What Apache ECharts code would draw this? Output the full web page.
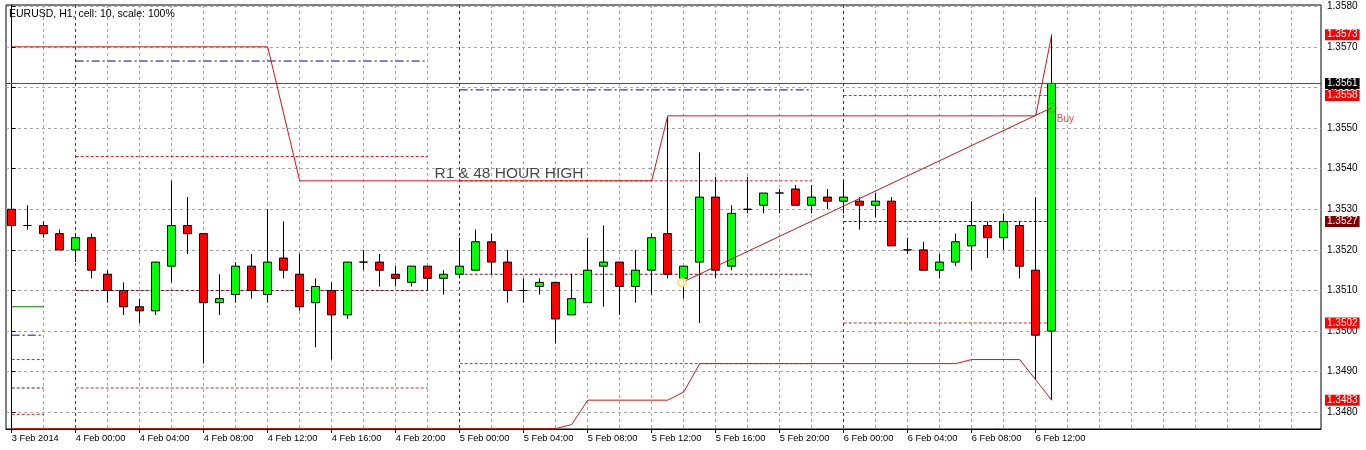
<!DOCTYPE html>
<html><head><meta charset="utf-8">
<script src="https://cdn.jsdelivr.net/npm/echarts@6/dist/echarts.min.js"></script>
<style>html,body{margin:0;padding:0;background:#fff}#c{width:1366px;height:450px}</style>
</head><body><div id="c"></div>
<script>
// ---- data ----
const chartTitle = 'EURUSD, H1, cell: 10, scale: 100%';
const xTickIndex = [0,4,8,12,16,20,24,28,32,36,40,44,48,52,56,60,64];
const xTickLabels = ['3 Feb 2014','4 Feb 00:00','4 Feb 04:00','4 Feb 08:00','4 Feb 12:00','4 Feb 16:00','4 Feb 20:00',
  '5 Feb 00:00','5 Feb 04:00','5 Feb 08:00','5 Feb 12:00','5 Feb 16:00','5 Feb 20:00',
  '6 Feb 00:00','6 Feb 04:00','6 Feb 08:00','6 Feb 12:00'];
const gridBarIndex = [0,2,4,6,8,10,12,14,16,18,20,22,24,26,28,30,32,34,36,38,40,42,44,46,48,50,52,54,56,58,60,62,64,66,68,70,72,74,76,78,80];
const daySeparators = [4,28,52];
const yTicks = [1.3480,1.3490,1.3500,1.3510,1.3520,1.3530,1.3540,1.3550,1.3560,1.3570,1.3580];

const opens  = [1.3530,1.3526,1.3526,1.3524,1.3520,1.3523,1.3514,1.3510,1.3506,1.3505,1.3516,1.3526,1.3524,1.3507,1.3509,1.3516,1.3509,1.3518,1.3514,1.3507,1.3510,1.3504,1.3517,1.3517,1.3514,1.3512,1.3516,1.3513,1.3514,1.3515,1.3522,1.3517,1.3510,1.3511,1.3512,1.3504,1.3507,1.3516,1.3517,1.3511,1.3515,1.3524,1.3513,1.3517,1.3533,1.3516,1.3530,1.3531,1.3534,1.3535,1.3531,1.3533,1.3532,1.3532,1.3531,1.3532,1.3520,1.3520,1.3515,1.3517,1.3521,1.3526,1.3523,1.3526,1.3515,1.3500];
const closes = [1.3526,1.3526,1.3524,1.3520,1.3523,1.3515,1.3510,1.3506,1.3505,1.3517,1.3526,1.3524,1.3507,1.3508,1.3516,1.3510,1.3517,1.3515,1.3506,1.3511,1.3504,1.3517,1.3517,1.3515,1.3513,1.3516,1.3513,1.3514,1.3516,1.3522,1.3517,1.3510,1.3510,1.3512,1.3503,1.3508,1.3515,1.3517,1.3511,1.3515,1.3523,1.3514,1.3516,1.3533,1.3515,1.3529,1.3530,1.3534,1.3534,1.3531,1.3533,1.3532,1.3533,1.3531,1.3532,1.3521,1.3520,1.3515,1.3517,1.3522,1.3526,1.3523,1.3527,1.3516,1.3499,1.3561];
const lows   = [1.3520,1.3525,1.3523,1.3520,1.3517,1.3513,1.3507,1.3504,1.3502,1.3504,1.3512,1.3519,1.3492,1.3504,1.3507,1.3508,1.3507,1.3513,1.3505,1.3496,1.3493,1.3503,1.3515,1.3511,1.3511,1.3511,1.3510,1.3509,1.3513,1.3515,1.3514,1.3507,1.3507,1.3509,1.3497,1.3504,1.3507,1.3506,1.3504,1.3507,1.3509,1.3513,1.3508,1.3502,1.3513,1.3515,1.3529,1.3529,1.3529,1.3531,1.3529,1.3530,1.3529,1.3525,1.3528,1.3521,1.3519,1.3515,1.3513,1.3516,1.3515,1.3518,1.3520,1.3513,1.3488,1.3483];
const highs  = [1.3533,1.3531,1.3527,1.3525,1.3524,1.3524,1.3515,1.3512,1.3508,1.3517,1.3537,1.3533,1.3524,1.3514,1.3517,1.3519,1.3530,1.3527,1.3519,1.3513,1.3512,1.3517,1.3520,1.3519,1.3516,1.3516,1.3516,1.3515,1.3523,1.3525,1.3524,1.3520,1.3513,1.3513,1.3512,1.3514,1.3523,1.3526,1.3517,1.3520,1.3524,1.3553,1.3516,1.3544,1.3538,1.3531,1.3538,1.3534,1.3535,1.3536,1.3536,1.3535,1.3537,1.3533,1.3534,1.3533,1.3523,1.3522,1.3519,1.3524,1.3532,1.3527,1.3529,1.3527,1.3533,1.3573];

// 48-hour high / low indicator lines (vertices)
const highLineX = [0,16,18,40,41,64,65];
const highLineY = [1.3570,1.3570,1.3537,1.3537,1.3553,1.3553,1.3573];
const lowLineX  = [0,34,35,36,41,42,43,59,60,63,64,65];
const lowLineY  = [1.3476,1.3476,1.3477,1.3483,1.3483,1.3485,1.3492,1.3492,1.3493,1.3493,1.3488,1.3483];

// daily level segments
const dayStart = [0,4,28,52];
const dayEnd   = [2,26,50,65];
const blueLevel    = [1.3499,1.35665,1.35594,null];
const greenLevel   = [1.3506,null,null,null];
const resistLevel  = [1.3493,1.3543,1.3537,1.3558];
const pivotLevel   = [1.3486,1.3510,1.3514,1.3527];
const supportLevel = [1.34795,1.3486,1.3492,1.3502];

// trend line & signal
const trendX = [41.9,65];
const trendY = [1.3512,1.3555];
const buySignal = [65,1.3555];
const bidPrice = 1.3561;

// right-hand price tags
const tagValues = [1.3573,1.3558,1.3527,1.3502,1.3483];
const tagKinds  = ['level','level','pivot','level','level'];

const annotationText = 'R1 & 48 HOUR HIGH';
const annotationAt = [26.39,1.35388];

// ---- build ----
const FONT = 'Liberation Sans, Arial, sans-serif';
const candles = opens.map((o,i)=>[i,o,closes[i],lows[i],highs[i]]);
const pairs = (xs,ys)=>xs.map((x,i)=>[x,ys[i]]);
function segs(levels){
  const out=[];
  levels.forEach((v,d)=>{ if(v==null) return; out.push([dayStart[d],v],[dayEnd[d],v],[dayEnd[d]+0.5,null]); });
  return out;
}
function levelSeries(name,levels,color,type,z){
  return {name,type:'line',data:segs(levels),symbol:'none',silent:true,z:z||2,
    lineStyle:{color,width:1,type},connectNulls:false,animation:false};
}
const tagColor = {level:'#ff0000',pivot:'#800000'};

const X_MIN = -0.356, X_MAX = 81.83;
const Y_MIN = 1.34759, Y_MAX = 1.35803;

const chart = echarts.init(document.getElementById('c'),null,{renderer:'canvas'});
chart.setOption({
  animation:false,
  backgroundColor:'#ffffff',
  textStyle:{fontFamily:FONT},
  title:{text:chartTitle,left:9,top:9,padding:0,textStyle:{fontSize:10.5,fontWeight:'normal',color:'#000',fontFamily:FONT}},
  grid:{left:6,right:45,top:5,bottom:21,show:true,borderColor:'#000',borderWidth:1,backgroundColor:'#fff'},
  xAxis:[
    {type:'value',min:X_MIN,max:X_MAX,position:'bottom',
      axisLine:{show:true,lineStyle:{color:'#000'}},
      axisTick:{show:false,customValues:gridBarIndex},
      axisLabel:{show:false},
      splitLine:{show:true,lineStyle:{color:'#a8a8a8',type:[3,3],width:1}}},
    {type:'value',min:X_MIN,max:X_MAX,position:'bottom',
      axisLine:{show:false},
      axisTick:{show:true,length:4,customValues:xTickIndex,lineStyle:{color:'#000'}},
      axisLabel:{show:true,customValues:xTickIndex,align:'left',margin:5,fontSize:9.3,color:'#000',fontFamily:FONT,
        formatter:v=>{const k=xTickIndex.indexOf(Math.round(v));return k>=0?xTickLabels[k]:'';}},
      splitLine:{show:false}},
    {type:'value',min:X_MIN,max:X_MAX,position:'bottom',
      axisLine:{show:false},
      axisTick:{show:false,customValues:daySeparators},
      axisLabel:{show:false},
      splitLine:{show:true,lineStyle:{color:'#3a3a5a',type:[3,3],width:1}}}
  ],
  yAxis:{type:'value',position:'right',min:Y_MIN,max:Y_MAX,scale:true,
    axisLine:{show:true,lineStyle:{color:'#000'}},
    axisTick:{show:true,length:4,customValues:yTicks,lineStyle:{color:'#000'}},
    axisLabel:{show:true,customValues:yTicks,margin:6,fontSize:10,color:'#000',fontFamily:FONT,formatter:v=>v.toFixed(4)},
    splitLine:{show:true,lineStyle:{color:'#a8a8a8',type:[3,3],width:1}}},
  series:[
    levelSeries('blue',blueLevel,'#0000c0',[8,3,2,3]),
    levelSeries('green',greenLevel,'#008000','solid'),
    levelSeries('resist',resistLevel,'#dd2222',[3,2]),
    levelSeries('pivot',pivotLevel,'#8b0a1a',[3,2]),
    levelSeries('support',supportLevel,'#dd2222',[3,2]),
    {name:'EURUSD',type:'candlestick',data:candles,barWidth:8,z:3,silent:true,
      itemStyle:{color:'#00ff00',color0:'#ff0000',borderColor:'#000',borderColor0:'#000',borderColorDoji:'#000',borderWidth:1},
      markLine:{silent:true,symbol:['none','none'],animation:false,precision:4,
        data:[
          {yAxis:bidPrice,lineStyle:{color:'#4a4a80',width:1,type:'solid'},
            label:{show:true,position:'end',distance:4,formatter:p=>p.value.toFixed(4),color:'#fff',backgroundColor:'#000',padding:[1,2,0,2],fontSize:10,fontFamily:FONT}}
        ].concat(tagValues.map((v,i)=>({yAxis:v,lineStyle:{color:'rgba(0,0,0,0)',width:0},
            label:{show:true,position:'end',distance:4,formatter:p=>p.value.toFixed(4),color:'#fff',backgroundColor:tagColor[tagKinds[i]],padding:[1,2,0,2],fontSize:10,fontFamily:FONT}})))
      }},
    {name:'48h high',type:'line',data:pairs(highLineX,highLineY),symbol:'none',silent:true,z:4,lineStyle:{color:'#dd1111',width:1}},
    {name:'48h low',type:'line',data:pairs(lowLineX,lowLineY),symbol:'none',silent:true,z:4,lineStyle:{color:'#dd1111',width:1}},
    {name:'trend',type:'line',data:pairs(trendX,trendY),symbol:'none',silent:true,z:4,lineStyle:{color:'#cc1111',width:1}},
    {name:'anchor',type:'scatter',data:[[trendX[0],trendY[0]]],symbol:'emptyCircle',symbolSize:8,silent:true,z:5,
      itemStyle:{color:'#f0e040',borderColor:'#f0e040',borderWidth:1.5}},
    {name:'buy',type:'scatter',data:[buySignal],symbol:'circle',symbolSize:9,silent:true,z:6,
      itemStyle:{color:'rgba(0,0,0,0)',borderColor:'#c84000',borderWidth:1,borderType:[2,1]},
      label:{show:true,formatter:'Buy',position:[10,16],align:'left',verticalAlign:'middle',color:'#dd2222',fontSize:10,fontFamily:FONT}},
    {name:'note',type:'scatter',data:[annotationAt],symbol:'circle',symbolSize:1,silent:true,z:6,
      itemStyle:{color:'rgba(0,0,0,0)'},
      label:{show:true,formatter:annotationText,position:'right',distance:0,color:'#1a1a1a',fontSize:15.5,fontFamily:FONT}}
  ]
});
</script></body></html>
